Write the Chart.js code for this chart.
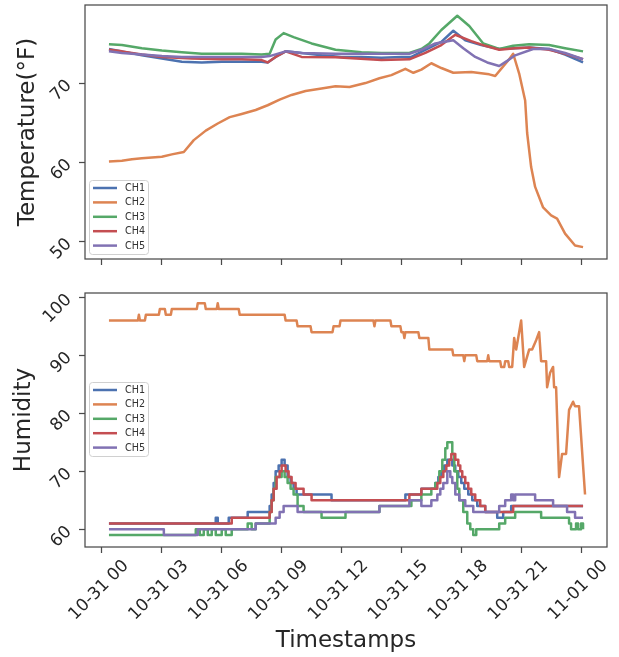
<!DOCTYPE html>
<html>
<head>
<meta charset="utf-8">
<script src="https://cdn.jsdelivr.net/npm/chart.js@4.4.0/dist/chart.umd.min.js"></script>
<style>
    html, body { margin: 0; padding: 0; background: #fff; }
    #wrap { position: relative; width: 619px; height: 657px; }
    canvas { position: absolute; left: 0; }
    #tempChart { top: 0; }
    #humChart { top: 270px; }
</style>
</head>
<body>
<div id="wrap">
    <canvas id="tempChart" width="619" height="270"></canvas>
    <canvas id="humChart" width="619" height="387"></canvas>
</div>
<script>
// Hours since 10-31 00:00
const tickHours = [0, 3, 6, 9, 12, 15, 18, 21, 24];
const xTickLabels = ['10-31 00', '10-31 03', '10-31 06', '10-31 09', '10-31 12', '10-31 15', '10-31 18', '10-31 21', '11-01 00'];
const channels = ['CH1', 'CH2', 'CH3', 'CH4', 'CH5'];
const tempTicks = [50, 60, 70];
const humTicks = [60, 70, 80, 90, 100];

// Temperature (°F)
const ch1TempHours = [0.35, 1, 2, 3, 4, 5, 6, 7, 8, 8.3, 8.7, 9.2, 10, 11, 12, 13, 14, 15, 15.5, 16.2, 17, 17.6, 18.2, 19, 19.9, 20.7, 21.4, 22.4, 23.2, 24.1];
const ch1TempVals = [74.3, 74.0, 73.5, 73.1, 72.7, 72.6, 72.7, 72.7, 72.7, 72.6, 73.3, 74.0, 73.8, 73.5, 73.3, 73.3, 73.2, 73.3, 73.3, 74.2, 75.2, 76.6, 75.4, 74.8, 74.3, 74.4, 74.5, 74.3, 73.6, 72.6];

const ch2TempHours = [0.35, 1, 1.5, 2, 2.5, 3, 3.5, 4.1, 4.6, 5.2, 5.8, 6.4, 7, 7.7, 8.3, 8.9, 9.5, 10.2, 11, 11.7, 12.4, 13.2, 13.9, 14.5, 15.2, 15.6, 16, 16.5, 17, 17.6, 18.5, 19.4, 19.7, 20.1, 20.4, 20.6, 20.9, 21.2, 21.3, 21.5, 21.7, 22.1, 22.5, 22.8, 23.2, 23.7, 24.1];
const ch2TempVals = [60.1, 60.2, 60.4, 60.5, 60.6, 60.7, 61.0, 61.3, 62.8, 64.0, 64.9, 65.7, 66.1, 66.6, 67.2, 67.9, 68.5, 69.0, 69.3, 69.6, 69.5, 70.0, 70.6, 71.0, 71.8, 71.3, 71.7, 72.5, 71.9, 71.3, 71.4, 71.1, 70.9, 72.1, 73.0, 73.7, 71.2, 67.8, 63.7, 59.4, 56.9, 54.3, 53.3, 52.9, 51.0, 49.5, 49.3];

const ch3TempHours = [0.35, 1, 2, 3, 4, 5, 6, 7, 8, 8.4, 8.7, 9.1, 9.6, 10.5, 11.7, 13, 14, 15.4, 16, 16.4, 17, 17.8, 18.4, 19.1, 19.9, 20.6, 21.4, 22.4, 23.2, 24.1];
const ch3TempVals = [74.9, 74.8, 74.4, 74.1, 73.9, 73.7, 73.7, 73.7, 73.6, 73.7, 75.5, 76.3, 75.8, 75.0, 74.2, 73.9, 73.8, 73.8, 74.3, 75.0, 76.7, 78.5, 77.2, 75.0, 74.3, 74.7, 74.9, 74.8, 74.4, 74.0];

const ch4TempHours = [0.35, 1, 2, 3, 4.5, 6, 7, 8, 8.3, 8.7, 9.2, 10, 11.7, 14, 15.4, 16.2, 17, 17.7, 18.5, 19.2, 19.9, 20.7, 21.4, 22.4, 23.2, 24.1];
const ch4TempVals = [74.2, 74.0, 73.6, 73.3, 73.1, 73.0, 73.0, 72.9, 72.6, 73.3, 74.0, 73.3, 73.25, 72.9, 73.0, 73.8, 74.8, 76.1, 75.3, 74.7, 74.2, 74.4, 74.5, 74.2, 73.7, 73.0];

const ch5TempHours = [0.35, 1, 2, 3, 4, 6, 8, 8.4, 9.2, 10, 11.7, 13, 15.4, 16, 16.7, 17.6, 18.1, 18.7, 19.3, 19.9, 20.3, 20.7, 21.6, 22.4, 23.2, 24.1];
const ch5TempVals = [74.0, 73.8, 73.6, 73.4, 73.3, 73.3, 73.3, 73.4, 74.0, 73.8, 73.7, 73.7, 73.7, 74.2, 75.0, 75.4, 74.4, 73.3, 72.6, 72.15, 72.8, 73.5, 74.3, 74.3, 73.8, 73.0];

// Humidity (%), step series: value holds from each hour until the next
const ch1HumHours = [0.35, 5.7, 5.8, 6.35, 7.3, 8.4, 8.5, 8.6, 8.7, 8.85, 9.0, 9.15, 9.3, 9.45, 9.6, 9.75, 11.5, 15.2, 16.0, 16.7, 16.85, 17.0, 17.15, 17.3, 17.55, 17.7, 17.85, 18.0, 18.15, 18.35, 18.55, 18.8, 19.2, 19.8, 20.1, 20.5, 24.1];
const ch1HumVals = [61, 62, 61, 62, 63, 64, 66, 68, 70, 71, 72, 71, 69, 68, 67, 66, 65, 66, 67, 68, 69, 70, 71, 72, 71, 70, 69, 68, 67, 66, 65, 64, 63, 62, 63, 64, 64];

// CH2 is drawn point to point
const ch2HumHours = [0.35, 1.8, 1.85, 1.9, 2.15, 2.2, 2.85, 2.9, 3.15, 3.2, 3.45, 3.5, 4.75, 4.8, 5.15, 5.2, 5.75, 5.8, 5.85, 6.85, 6.9, 9.15, 9.2, 9.75, 9.8, 10.45, 10.5, 11.55, 11.6, 11.9, 11.95, 13.6, 13.65, 13.7, 14.45, 14.5, 14.95, 15.0, 15.1, 15.15, 15.2, 15.85, 15.9, 16.35, 16.4, 17.55, 17.6, 18.1, 18.15, 18.2, 18.75, 18.8, 19.3, 19.35, 19.4, 19.95, 20.0, 20.15, 20.2, 20.35, 20.4, 20.55, 20.65, 20.75, 20.85, 21.0, 21.15, 21.4, 21.55, 21.75, 21.9, 22.0, 22.25, 22.3, 22.45, 22.6, 22.65, 22.75, 22.9, 23.05, 23.25, 23.4, 23.6, 23.7, 23.9, 24.2];
const ch2HumVals = [96, 96, 97, 96, 96, 97, 97, 98, 98, 97, 97, 98, 98, 99, 99, 98, 98, 99, 98, 98, 97, 97, 96, 96, 95, 95, 94, 94, 95, 95, 96, 96, 95, 96, 96, 95, 95, 94, 94, 93, 94, 94, 93, 93, 91, 91, 90, 90, 89, 90, 90, 89, 89, 90, 89, 89, 88, 88, 89, 89, 88, 88, 93, 91, 93, 96, 88, 91, 91, 92.6, 94, 89, 89, 84.5, 87, 88, 84.5, 84.5, 69, 73, 73, 80.6, 82, 81.2, 81.2, 66];

const ch3HumHours = [0.35, 4.7, 4.9, 5.1, 5.3, 5.5, 5.7, 6.0, 6.2, 6.5, 7.3, 7.5, 7.7, 8.4, 8.5, 8.6, 8.7, 9.0, 9.15, 9.3, 9.45, 9.6, 9.8, 10.1, 11.0, 12.2, 13.9, 15.5, 16.0, 16.5, 16.7, 16.9, 17.05, 17.2, 17.3, 17.55, 17.65, 17.8, 17.9, 18.1, 18.3, 18.45, 18.6, 18.75, 19.9, 20.2, 20.7, 22.0, 23.4, 23.5, 23.75, 23.85, 24.0, 24.1];
const ch3HumVals = [59, 60, 59, 60, 59, 60, 59, 60, 59, 60, 61, 60, 61, 63, 65, 67, 69, 70, 69, 68, 67, 66, 64, 63, 62, 63, 64, 65, 66, 67, 68, 70, 72, 74, 75, 73, 70, 67, 65, 63, 61, 60, 59, 60, 61, 62, 63, 62, 61, 60, 61, 60, 61, 60];

const ch4HumHours = [0.35, 6.5, 8.4, 8.5, 8.6, 8.75, 8.9, 9.0, 9.2, 9.35, 9.5, 9.7, 10.1, 10.5, 15.4, 16.0, 16.8, 16.95, 17.1, 17.25, 17.4, 17.5, 17.7, 17.85, 17.95, 18.05, 18.2, 18.35, 18.5, 18.7, 18.95, 19.2, 20.6, 24.1];
const ch4HumVals = [61, 62, 63, 65, 67, 69, 70, 71, 70, 69, 68, 67, 66, 65, 66, 67, 68, 69, 70, 71, 72, 73, 72, 71, 70, 69, 68, 67, 66, 65, 64, 63, 64, 64];

const ch5HumHours = [0.35, 3.1, 4.8, 7.7, 8.7, 8.9, 9.1, 9.8, 13.9, 15.4, 16.0, 16.5, 16.8, 16.95, 17.1, 17.3, 17.45, 17.55, 17.7, 17.9, 18.2, 18.6, 19.9, 20.2, 20.5, 20.6, 20.7, 21.7, 22.6, 23.3, 23.7, 24.1];
const ch5HumVals = [60, 59, 60, 61, 62, 63, 64, 63, 64, 65, 64, 65, 66, 67, 68, 70, 69, 68, 66, 65, 64, 63, 64, 65, 66, 65, 66, 65, 64, 63, 62, 62];

const COLORS = ['#4c72b0', '#dd8452', '#55a868', '#c44e52', '#8172b3'];
const FONT = '"DejaVu Sans", sans-serif';
const TEXT = '#262626';
const SPINE = '#4a4a4a';
const X_MIN = -0.85, X_MAX = 25.3;

function toPoints(hours, vals) {
    return hours.map((h, i) => ({ x: h, y: vals[i] }));
}

function makeDatasets(series, stepped) {
    return series.map((s, i) => ({
        label: channels[i],
        data: toPoints(s[0], s[1]),
        borderColor: COLORS[i],
        backgroundColor: COLORS[i],
        borderWidth: 2.5,
        borderJoinStyle: 'round',
        pointRadius: 0,
        tension: 0,
        stepped: stepped[i] ? 'before' : false,
        order: series.length - i
    }));
}

// full box around the plot area (matplotlib spines)
const boxPlugin = {
    id: 'axesBox',
    afterDatasetsDraw(chart) {
        const { ctx, chartArea: a } = chart;
        ctx.save();
        ctx.strokeStyle = SPINE;
        ctx.lineWidth = 1.25;
        ctx.strokeRect(a.left, a.top, a.right - a.left, a.bottom - a.top);
        ctx.restore();
    }
};

// legend box inside the plot area, lower left
const legendPlugin = {
    id: 'innerLegend',
    afterDraw(chart, args, opts) {
        const { ctx, chartArea: a } = chart;
        const sets = chart.data.datasets;
        const x = a.left + opts.dx, y = a.top + opts.dy;
        const rowH = 14.4, w = 59, h = sets.length * rowH + 2;
        ctx.save();
        ctx.fillStyle = 'rgba(255,255,255,0.8)';
        ctx.strokeStyle = '#d0d0d0';
        ctx.lineWidth = 1;
        ctx.beginPath();
        if (ctx.roundRect) ctx.roundRect(x + 0.5, y + 0.5, w, h, 3);
        else ctx.rect(x + 0.5, y + 0.5, w, h);
        ctx.fill();
        ctx.stroke();
        ctx.font = '9.6px ' + FONT;
        ctx.textBaseline = 'middle';
        sets.forEach((ds, i) => {
            const cy = y + 8 + i * rowH;
            ctx.strokeStyle = ds.borderColor;
            ctx.lineWidth = 2.5;
            ctx.beginPath();
            ctx.moveTo(x + 4, cy);
            ctx.lineTo(x + 28, cy);
            ctx.stroke();
            ctx.fillStyle = '#333333';
            ctx.fillText(ds.label, x + 36, cy + 0.5);
        });
        ctx.restore();
    }
};

function makeOptions(cfg) {
    return {
        responsive: false,
        animation: false,
        devicePixelRatio: 1,
        layout: { padding: { top: cfg.padTop, right: 12, left: 0, bottom: 0 } },
        plugins: {
            legend: { display: false },
            tooltip: { enabled: false },
            innerLegend: { dx: 4, dy: cfg.legendTop }
        },
        scales: {
            x: {
                type: 'linear',
                min: X_MIN,
                max: X_MAX,
                afterBuildTicks: s => { s.ticks = tickHours.map(v => ({ value: v })); },
                afterFit: s => { s.height = cfg.xHeight; s.paddingLeft = 0; s.paddingRight = 0; },
                grid: { drawOnChartArea: false, drawTicks: true, tickLength: 6, tickWidth: 1.25, tickColor: SPINE },
                border: { display: false },
                ticks: {
                    display: cfg.showX,
                    autoSkip: false,
                    minRotation: 45,
                    maxRotation: 45,
                    padding: 3,
                    labelOffset: 24,
                    color: TEXT,
                    font: { family: FONT, size: 17 },
                    callback: v => xTickLabels[tickHours.indexOf(v)]
                },
                title: {
                    display: cfg.showX,
                    text: 'Timestamps',
                    color: TEXT,
                    font: { family: FONT, size: 23 },
                    padding: { top: 0, bottom: 2 }
                }
            },
            y: {
                min: cfg.yMin,
                max: cfg.yMax,
                afterBuildTicks: s => { s.ticks = cfg.yTicks.map(v => ({ value: v })); },
                afterFit: s => { s.width = 85; s.paddingTop = 0; s.paddingBottom = 0; },
                grid: { drawOnChartArea: false, drawTicks: true, tickLength: 6, tickWidth: 1.25, tickColor: SPINE },
                border: { display: false },
                ticks: {
                    minRotation: 45,
                    maxRotation: 45,
                    padding: 10,
                    color: TEXT,
                    font: { family: FONT, size: 17 }
                },
                title: {
                    display: true,
                    text: cfg.yTitle,
                    color: TEXT,
                    font: { family: FONT, size: 23 },
                    padding: { top: cfg.yTitlePad, bottom: 0 }
                }
            }
        }
    };
}

new Chart(document.getElementById('tempChart'), {
    type: 'line',
    data: {
        datasets: makeDatasets([
            [ch1TempHours, ch1TempVals],
            [ch2TempHours, ch2TempVals],
            [ch3TempHours, ch3TempVals],
            [ch4TempHours, ch4TempVals],
            [ch5TempHours, ch5TempVals]
        ], [false, false, false, false, false])
    },
    options: makeOptions({
        padTop: 5, xHeight: 11, showX: false, legendTop: 175,
        yMin: 47.8, yMax: 79.85, yTicks: tempTicks,
        yTitle: 'Temperature(°F)', yTitlePad: 14
    }),
    plugins: [boxPlugin, legendPlugin]
});

new Chart(document.getElementById('humChart'), {
    type: 'line',
    data: {
        datasets: makeDatasets([
            [ch1HumHours, ch1HumVals],
            [ch2HumHours, ch2HumVals],
            [ch3HumHours, ch3HumVals],
            [ch4HumHours, ch4HumVals],
            [ch5HumHours, ch5HumVals]
        ], [true, false, true, true, true])
    },
    options: makeOptions({
        padTop: 23, xHeight: 110, showX: true, legendTop: 89,
        yMin: 56.95, yMax: 100.75, yTicks: humTicks,
        yTitle: 'Humidity', yTitlePad: 10
    }),
    plugins: [boxPlugin, legendPlugin]
});
</script>
</body>
</html>
